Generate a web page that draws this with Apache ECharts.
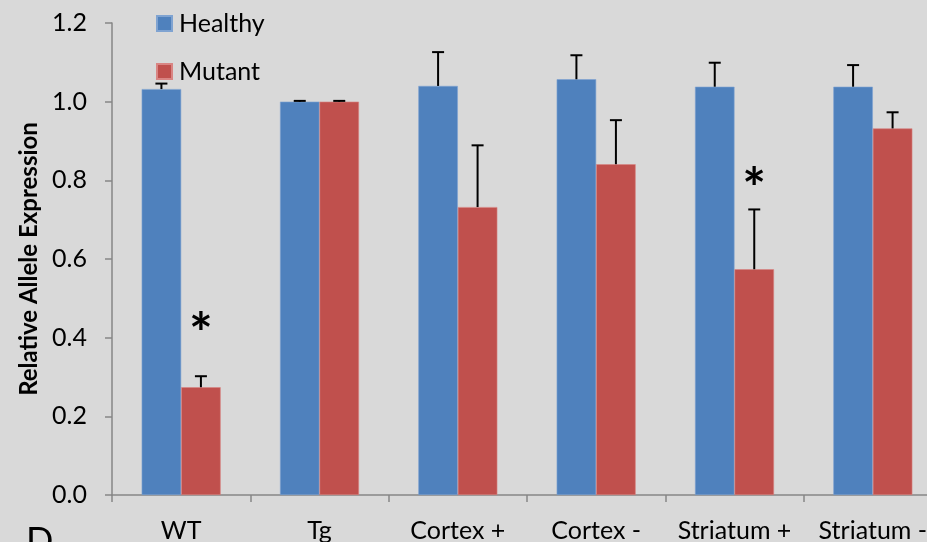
<!DOCTYPE html>
<html>
<head>
<meta charset="utf-8">
<script src="https://cdn.jsdelivr.net/npm/echarts@6/dist/echarts.min.js"></script>
<style>
  html, body { margin: 0; padding: 0; background: #d9d9d9; }
  #chart { width: 927px; height: 542px; }
</style>
</head>
<body>
<div id="chart"></div>
<script>
// relative allele expression, healthy vs mutant
var categories = ['WT', 'Tg', 'Cortex +', 'Cortex -', 'Striatum +', 'Striatum -'];
var healthy = [1.032, 1.0, 1.04, 1.057, 1.038, 1.038];
var healthyErr = [0.014, 0.002, 0.086, 0.061, 0.061, 0.055];
var mutant = [0.274, 1.0, 0.732, 0.841, 0.574, 0.932];
var mutantErr = [0.028, 0.002, 0.157, 0.112, 0.152, 0.041];
// asterisk height (value units) for significant mutant bars, null = none
var stars = [0.44, null, null, null, 0.809, null];

var FONT = 'Lato';
var BAR_W = 39.5;

var errData = [];
categories.forEach(function (c, i) {
  errData.push([i, healthy[i], healthyErr[i], -1]);
  errData.push([i, mutant[i], mutantErr[i], 1]);
});
var starData = [];
stars.forEach(function (s, i) {
  if (s != null) starData.push([i, s]);
});

var chart = echarts.init(document.getElementById('chart'));
chart.setOption({
  backgroundColor: '#d9d9d9',
  animation: false,
  textStyle: { fontFamily: FONT, color: '#000' },
  grid: { left: 112, right: -15, top: 23, bottom: 47, containLabel: false, outerBoundsMode: 'none' },
  legend: {
    orient: 'vertical',
    left: 151,
    top: 6,
    itemWidth: 15,
    itemHeight: 15,
    itemGap: 23,
    icon: 'rect',
    data: ['Healthy', 'Mutant'],
    textStyle: { fontFamily: FONT, fontSize: 25, color: '#000', padding: [0, 0, 0, 2] }
  },
  xAxis: {
    type: 'category',
    data: categories,
    axisLine: { lineStyle: { color: '#868686', width: 1.5 } },
    axisTick: { show: true, length: 7, lineStyle: { color: '#868686', width: 1.5 } },
    axisLabel: { interval: 0, fontFamily: FONT, fontSize: 25, color: '#000', margin: 23 }
  },
  yAxis: {
    type: 'value',
    min: 0,
    max: 1.2,
    interval: 0.2,
    name: 'Relative Allele Expression',
    nameLocation: 'middle',
    nameGap: 70,
    nameTextStyle: { fontFamily: FONT, fontSize: 24, fontWeight: 'bold', color: '#000' },
    axisLine: { show: true, lineStyle: { color: '#868686', width: 1.5 } },
    axisTick: { show: true, length: 7, lineStyle: { color: '#868686', width: 1.5 } },
    splitLine: { show: false },
    axisLabel: {
      fontFamily: FONT, fontSize: 25, color: '#000', margin: 25,
      formatter: function (v) { return v.toFixed(1); }
    }
  },
  series: [
    {
      name: 'Healthy',
      type: 'bar',
      data: healthy,
      barWidth: BAR_W,
      barGap: '0%',
      itemStyle: { color: '#4f81bd', borderColor: '#7fa3d1', borderWidth: 0.6 }
    },
    {
      name: 'Mutant',
      type: 'bar',
      data: mutant,
      barWidth: BAR_W,
      barGap: '0%',
      itemStyle: { color: '#c0504d', borderColor: '#d98583', borderWidth: 0.6 }
    },
    {
      type: 'custom',
      data: errData,
      z: 10,
      renderItem: function (params, api) {
        var i = api.value(0);
        var side = api.value(3);
        var base = api.coord([i, api.value(1)]);
        var top = api.coord([i, api.value(1) + api.value(2)]);
        var x = base[0] + side * BAR_W / 2;
        var capW = 6;
        var style = { stroke: '#000', lineWidth: 2 };
        return {
          type: 'group',
          children: [
            { type: 'line', shape: { x1: x, y1: base[1], x2: x, y2: top[1] }, style: style },
            { type: 'line', shape: { x1: x - capW, y1: top[1], x2: x + capW, y2: top[1] }, style: style }
          ]
        };
      }
    },
    {
      type: 'custom',
      data: starData,
      z: 10,
      renderItem: function (params, api) {
        var p = api.coord([api.value(0), api.value(1)]);
        return {
          type: 'text',
          x: p[0] + BAR_W / 2,
          y: p[1] + 13,
          style: {
            text: '*',
            font: 'bold 56px ' + FONT,
            fill: '#000',
            align: 'center',
            verticalAlign: 'middle'
          }
        };
      }
    }
  ],
  graphic: [
    {
      type: 'text',
      left: 26,
      top: 523,
      style: { text: 'D', font: '36px ' + FONT, fill: '#000' }
    }
  ]
});
</script>
</body>
</html>
